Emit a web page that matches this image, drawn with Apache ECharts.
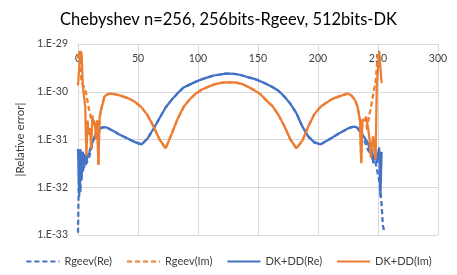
<!DOCTYPE html>
<html>
<head>
<meta charset="utf-8">
<script src="https://cdn.jsdelivr.net/npm/echarts@6/dist/echarts.min.js"></script>
<style>
html,body{margin:0;padding:0;background:#fff;}
#chart{width:457px;height:275px;}
</style>
</head>
<body>
<div id="chart"></div>
<script>
// eigenvalue index
const xIndex = [0,1,2,3,4,5,6,7,8,9,10,11,12,13,14,15,16,17,18,19,20,
 22,24,27,30,34,38,43,48,53,58,63,68,73,78,83,88,93,98,103,108,113,118,123,127,128,132,137,142,147,152,157,162,167,172,177,182,187,192,197,202,207,212,217,222,225,228,231,233,235,
 236,237,238,239,240,241,242,243,244,245,246,247,248,249,250,251,252,253,254,255];

// |relative error| values
const rgeevRe = [1.12e-33,5.0e-32,7.9e-33,5.0e-32,2.0e-32,3.55e-32,2.82e-32,3.2e-32,3.55e-32,4.0e-32,5.0e-32,6.3e-32,7.9e-32,1.0e-31,1.17e-31,1.32e-31,1.48e-31,1.58e-31,1.66e-31,1.74e-31,1.78e-31,
 1.82e-31,1.78e-31,1.62e-31,1.48e-31,1.29e-31,1.15e-31,1.0e-31,8.7e-32,7.9e-32,1.05e-31,1.70e-31,2.82e-31,4.68e-31,6.76e-31,9.33e-31,1.23e-30,1.41e-30,1.62e-30,1.82e-30,2.0e-30,2.19e-30,2.29e-30,2.40e-30,2.40e-30,2.40e-30,2.34e-30,2.19e-30,2.0e-30,1.86e-30,1.66e-30,1.45e-30,1.26e-30,1.05e-30,7.9e-31,5.6e-31,3.55e-31,1.86e-31,1.15e-31,8.7e-32,7.9e-32,9.3e-32,1.10e-31,1.32e-31,1.55e-31,1.70e-31,1.82e-31,1.86e-31,1.74e-31,1.45e-31,
 1.35e-31,1.26e-31,1.15e-31,8.9e-32,7.9e-32,6.6e-32,6.0e-32,5.2e-32,4.7e-32,4.2e-32,3.7e-32,3.4e-32,3.2e-32,2.5e-32,1.8e-32,1.4e-32,7.9e-33,4.5e-33,1.6e-33,1.26e-33];

const rgeevIm = [5.0e-30,7.2e-30,3.2e-30,1.58e-30,1.41e-30,1.26e-30,1.12e-30,8.9e-31,6.3e-31,4.5e-31,3.5e-31,2.6e-31,2.8e-31,2.5e-31,2.2e-31,1.58e-31,2.5e-31,2.95e-32,2.82e-31,4.0e-31,5.0e-31,
 7.9e-31,8.7e-31,9.1e-31,8.9e-31,8.5e-31,7.9e-31,7.1e-31,6.0e-31,4.7e-31,3.2e-31,1.86e-31,1.0e-31,6.5e-32,1.3e-31,2.7e-31,4.8e-31,6.9e-31,9.1e-31,1.10e-30,1.26e-30,1.41e-30,1.51e-30,1.58e-30,1.58e-30,1.58e-30,1.55e-30,1.45e-30,1.26e-30,1.07e-30,8.9e-31,6.6e-31,5.0e-31,3.3e-31,1.9e-31,1.0e-31,6.5e-32,9.5e-32,1.9e-31,3.4e-31,4.8e-31,5.9e-31,7.1e-31,7.9e-31,8.7e-31,9.1e-31,8.3e-31,6.6e-31,4.8e-31,2.5e-31,
 3.2e-32,2.6e-31,2.8e-31,2.5e-31,3.0e-31,1.48e-31,2.5e-31,3.5e-31,4.6e-31,6.3e-31,8.9e-31,1.2e-30,1.66e-30,3.2e-30,6.9e-30,7.2e-30,null,null,null,null];

const dkddRe = [6.3e-32,6.3e-33,6.3e-32,1.4e-32,5.6e-32,2.5e-32,5.0e-32,3.2e-32,5.0e-32,4.5e-32,6.3e-32,7.1e-32,8.9e-32,1.0e-31,1.17e-31,1.32e-31,1.48e-31,1.58e-31,1.66e-31,1.74e-31,1.78e-31,
 1.82e-31,1.78e-31,1.62e-31,1.48e-31,1.29e-31,1.15e-31,1.0e-31,8.7e-32,7.9e-32,1.05e-31,1.70e-31,2.82e-31,4.68e-31,6.76e-31,9.33e-31,1.23e-30,1.41e-30,1.62e-30,1.82e-30,2.0e-30,2.19e-30,2.29e-30,2.40e-30,2.40e-30,2.40e-30,2.34e-30,2.19e-30,2.0e-30,1.86e-30,1.66e-30,1.45e-30,1.26e-30,1.05e-30,7.9e-31,5.6e-31,3.55e-31,1.86e-31,1.15e-31,8.7e-32,7.9e-32,9.3e-32,1.10e-31,1.32e-31,1.55e-31,1.70e-31,1.82e-31,1.86e-31,1.74e-31,1.45e-31,
 1.35e-31,1.26e-31,1.15e-31,1.07e-31,1.0e-31,8.9e-32,7.9e-32,7.2e-32,5.0e-32,6.3e-32,3.2e-32,4.5e-32,5.2e-32,3.2e-32,5.0e-32,6.8e-32,6.5e-33,5.5e-32,null,null];

const dkddIm = [1.35e-30,3.2e-30,7.1e-30,6.3e-30,1.32e-30,1.26e-30,5.0e-31,4.5e-32,2.5e-31,1.26e-31,1.74e-31,6.3e-32,3.2e-31,2.0e-31,2.24e-31,1.0e-31,2.5e-31,2.95e-32,2.82e-31,4.0e-31,5.0e-31,
 7.9e-31,8.7e-31,9.1e-31,8.9e-31,8.5e-31,7.9e-31,7.1e-31,6.0e-31,4.7e-31,3.2e-31,1.86e-31,1.0e-31,6.5e-32,1.3e-31,2.7e-31,4.8e-31,6.9e-31,9.1e-31,1.10e-30,1.26e-30,1.41e-30,1.51e-30,1.58e-30,1.58e-30,1.58e-30,1.55e-30,1.45e-30,1.26e-30,1.07e-30,8.9e-31,6.6e-31,5.0e-31,3.3e-31,1.9e-31,1.0e-31,6.5e-32,9.5e-32,1.9e-31,3.4e-31,4.8e-31,5.9e-31,7.1e-31,7.9e-31,8.7e-31,9.1e-31,8.3e-31,6.6e-31,4.8e-31,2.5e-31,
 3.2e-32,2.6e-31,2.8e-31,2.5e-31,3.0e-31,3.1e-31,1.58e-31,1.0e-31,4.2e-32,7.9e-32,1.17e-31,6.3e-32,3.8e-32,1.41e-30,1.51e-30,7.1e-30,7.1e-30,1.51e-30,null,null];

const seriesNames = ['Rgeev(Re)','Rgeev(Im)','DK+DD(Re)','DK+DD(Im)'];
const xTicks = {min:0, max:300, interval:50};
// y axis in decades (log10 of the error): 1.E-33 .. 1.E-29
const yDecades = {min:-33, max:-29, interval:1};

const BLUE = '#4472C4', ORANGE = '#ED7D31';
const FONT = 'Lato';

// the chart's y axis is logarithmic; plot log10 of each value on a linear decade axis
function pairs(ys){ return xIndex.map((x,i)=>[x, ys[i] == null ? null : Math.log10(ys[i])]); }

const chart = echarts.init(document.getElementById('chart'), null, {renderer:'canvas'});
chart.setOption({
  animation:false,
  backgroundColor:'#fff',
  textStyle:{fontFamily:FONT},
  title:{
    text:'Chebyshev n=256, 256bits-Rgeev, 512bits-DK',
    left:'center', top:6,
    textStyle:{fontFamily:FONT, fontSize:16.5, fontWeight:'normal', color:'#000'}
  },
  legend:{
    bottom:3, left:'center',
    itemWidth:33, itemHeight:10, itemGap:14,
    itemStyle:{opacity:0},
    textStyle:{fontFamily:FONT, fontSize:11, color:'#404040'},
    data:seriesNames
  },
  grid:{left:78, right:19, top:44, bottom:40, containLabel:false},
  xAxis:{
    type:'value', position:'top',
    min:xTicks.min, max:xTicks.max, interval:xTicks.interval,
    axisLine:{show:true, lineStyle:{color:'#d9d9d9'}},
    axisTick:{show:false},
    axisLabel:{inside:true, margin:9, fontSize:10.5, color:'#404040', fontFamily:FONT},
    splitLine:{show:true, lineStyle:{color:'#d9d9d9'}}
  },
  yAxis:{
    type:'value', min:yDecades.min, max:yDecades.max, interval:yDecades.interval,
    name:'|Relative error|', nameLocation:'middle', nameGap:52, nameRotate:90,
    nameTextStyle:{fontSize:11.5, color:'#404040', fontFamily:FONT},
    axisLine:{show:true, lineStyle:{color:'#d9d9d9'}},
    axisTick:{show:false},
    axisLabel:{fontSize:10.5, color:'#404040', margin:10, fontFamily:FONT,
      formatter:function(v){ return '1.E' + Math.round(v); }},
    splitLine:{show:true, lineStyle:{color:'#d9d9d9'}}
  },
  series:[
    {name:seriesNames[0], type:'line', symbol:'none', data:pairs(rgeevRe),
     lineStyle:{color:BLUE, width:2.25, type:[5,3]}, itemStyle:{color:BLUE}},
    {name:seriesNames[1], type:'line', symbol:'none', data:pairs(rgeevIm),
     lineStyle:{color:ORANGE, width:2.25, type:[5,3]}, itemStyle:{color:ORANGE}},
    {name:seriesNames[2], type:'line', symbol:'none', data:pairs(dkddRe),
     lineStyle:{color:BLUE, width:2.25}, itemStyle:{color:BLUE}},
    {name:seriesNames[3], type:'line', symbol:'none', data:pairs(dkddIm),
     lineStyle:{color:ORANGE, width:2.25}, itemStyle:{color:ORANGE}}
  ]
});
</script>
</body>
</html>
